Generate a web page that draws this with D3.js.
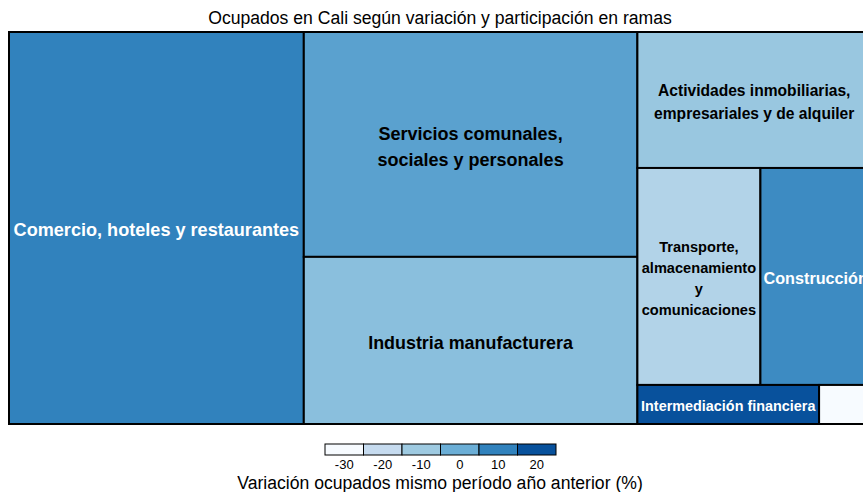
<!DOCTYPE html>
<html>
<head>
<meta charset="utf-8">
<script src="https://cdn.jsdelivr.net/npm/d3@7"></script>
<style>
  body { margin: 0; background: #fff; }
  svg { display: block; font-family: "Liberation Sans", Arial, sans-serif; }
</style>
</head>
<body>
<div id="chart"></div>
<script>
// Datos: ramas, participación (%) y variación (%)
const ramas = [
  "Comercio, hoteles y restaurantes",
  "Servicios comunales, sociales y personales",
  "Industria manufacturera",
  "Actividades inmobiliarias, empresariales y de alquiler",
  "Transporte, almacenamiento y comunicaciones",
  "Construcción",
  "Intermediación financiera",
  "Suministro de electricidad, gas y agua"
];
const participacion = [34.2, 22.2, 16.5, 9.4, 7.9, 7.1, 2.1, 0.6];
const variacion = [10, 3, -6, -9, -15, 8, 20, -32];

// Leyenda
const legendTicks = [-30, -20, -10, 0, 10, 20];
const legendColors = ["#f7fbff", "#c6dbef", "#9ecae1", "#6baed6", "#3182bd", "#08519c"];

// Cortes de línea de las etiquetas
const etiquetas = [
  ["Comercio, hoteles y restaurantes"],
  ["Servicios comunales,", "sociales y personales"],
  ["Industria manufacturera"],
  ["Actividades inmobiliarias,", "empresariales y de alquiler"],
  ["Transporte,", "almacenamiento", "y", "comunicaciones"],
  ["Construcción"],
  ["Intermediación financiera"],
  []
];
const fontSizes = [18.1, 18, 17.9, 15.6, 14.6, 16.2, 14.4, 0];

const WIDTH = 863;
const HEIGHT = 492;
const margin = { top: 32, left: 9 };
const mapW = 862;
const mapH = 392;

const svg = d3.select("#chart")
  .append("svg")
  .attr("width", WIDTH)
  .attr("height", HEIGHT);

// Título
svg.append("text")
  .attr("x", 440)
  .attr("y", 24)
  .attr("text-anchor", "middle")
  .attr("font-size", "17.6px")
  .attr("fill", "#000")
  .text("Ocupados en Cali según variación y participación en ramas");

// Escala de color
const color = d3.scaleLinear()
  .domain(legendTicks)
  .range(legendColors)
  .clamp(true);

const data = ramas.map((r, i) => ({
  name: r, value: participacion[i], vari: variacion[i],
  lines: etiquetas[i], fs: fontSizes[i]
}));

const root = d3.hierarchy({ children: data })
  .sum(d => d.value || 0)
  .sort((a, b) => b.value - a.value);

d3.treemap()
  .tile(d3.treemapSquarify.ratio(1))
  .size([mapW, mapH])(root);

const map = svg.append("g")
  .attr("transform", `translate(${margin.left}, ${margin.top})`);

const cells = map.selectAll("g.cell")
  .data(root.leaves())
  .join("g")
  .attr("class", "cell");

cells.append("rect")
  .attr("x", d => d.x0)
  .attr("y", d => d.y0)
  .attr("width", d => d.x1 - d.x0)
  .attr("height", d => d.y1 - d.y0)
  .attr("fill", d => color(d.data.vari))
  .attr("stroke", "#000")
  .attr("stroke-width", 2);

cells.each(function (d) {
  const lines = d.data.lines;
  if (!lines.length) return;
  const fs = d.data.fs;
  const lh = fs * 1.45;
  const cx = (d.x0 + d.x1) / 2;
  const cy = (d.y0 + d.y1) / 2;
  const dark = d.data.vari > 5;
  const t = d3.select(this).append("text")
    .attr("text-anchor", "middle")
    .attr("font-weight", "bold")
    .attr("font-size", fs + "px")
    .attr("fill", dark ? "#fff" : "#000");
  lines.forEach((l, i) => {
    t.append("tspan")
      .attr("x", cx)
      .attr("y", cy + (i - (lines.length - 1) / 2) * lh + fs * 0.38 + 1.5)
      .text(l);
  });
});

// Borde exterior
map.append("rect")
  .attr("width", mapW)
  .attr("height", mapH)
  .attr("fill", "none")
  .attr("stroke", "#000")
  .attr("stroke-width", 2);

// Leyenda
const lx = d3.scaleLinear().domain([-35, 25]).range([325, 556]);
const legend = svg.append("g").attr("id", "legend");

legend.selectAll("rect")
  .data(legendTicks)
  .join("rect")
  .attr("x", d => lx(d - 5))
  .attr("y", 444)
  .attr("width", d => lx(d + 5) - lx(d - 5))
  .attr("height", 11)
  .attr("fill", d => color(d))
  .attr("stroke", "#000")
  .attr("stroke-width", 1);

legend.selectAll("text.tick")
  .data(legendTicks)
  .join("text")
  .attr("class", "tick")
  .attr("x", d => lx(d))
  .attr("y", 469)
  .attr("text-anchor", "middle")
  .attr("font-size", "13px")
  .attr("fill", "#000")
  .text(d => d);

legend.append("text")
  .attr("x", 440)
  .attr("y", 488.5)
  .attr("text-anchor", "middle")
  .attr("font-size", "17.6px")
  .attr("fill", "#000")
  .text("Variación ocupados mismo período año anterior (%)");
</script>
</body>
</html>
